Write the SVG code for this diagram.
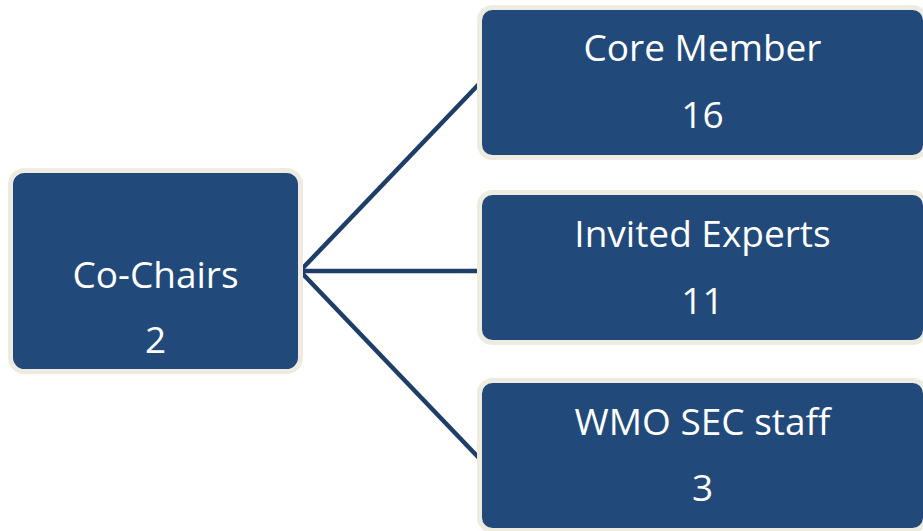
<svg xmlns="http://www.w3.org/2000/svg" width="923" height="531" viewBox="0 0 923 531">
<style>
.box{fill:#214A7B;stroke:#EEEBE0;stroke-width:5}
.lbl{fill:#FFFFFF;font-family:"Open Sans","Liberation Sans",sans-serif;font-size:37px;text-anchor:middle}
.conn{stroke:#1E3D69;stroke-width:4.5;fill:none;stroke-linecap:butt}
</style>
<rect width="923" height="531" fill="#FFFFFF"/>
<g id="connectors">
<line class="conn" x1="300" y1="271" x2="479" y2="84"/>
<line class="conn" x1="300" y1="271" x2="479" y2="271"/>
<line class="conn" x1="300" y1="271" x2="479" y2="458"/>
</g>
<g id="co-chairs">
<rect class="box" x="10.5" y="170.5" width="290" height="201" rx="14"/>
<text class="lbl" x="155.5" y="288">Co-Chairs</text>
<text class="lbl" x="155.5" y="353">2</text>
</g>
<g id="core-member">
<rect class="box" x="479.5" y="7.5" width="446" height="150" rx="13"/>
<text class="lbl" x="702.5" y="61">Core Member</text>
<text class="lbl" x="702.5" y="128">16</text>
</g>
<g id="invited-experts">
<rect class="box" x="479.5" y="192.5" width="446" height="150" rx="13"/>
<text class="lbl" x="702.5" y="247">Invited Experts</text>
<text class="lbl" x="702.5" y="314">11</text>
</g>
<g id="wmo-sec-staff">
<rect class="box" x="479.5" y="380.5" width="446" height="150" rx="13"/>
<text class="lbl" x="702.5" y="435">WMO SEC staff</text>
<text class="lbl" x="702.5" y="501">3</text>
</g>
</svg>
